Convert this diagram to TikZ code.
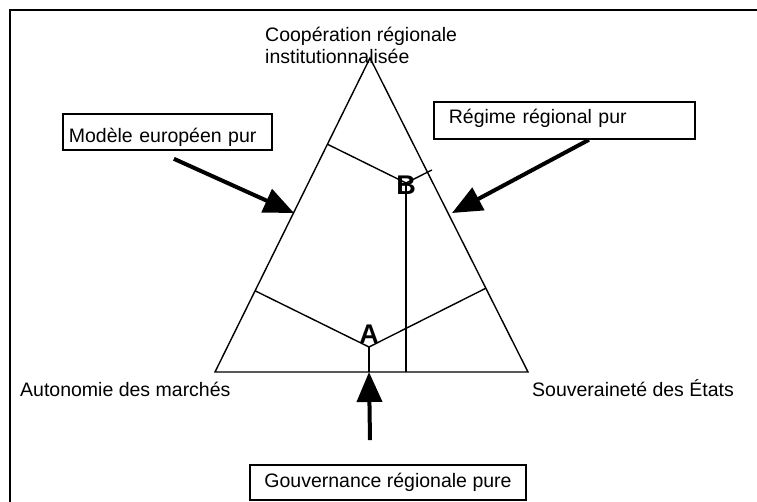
\documentclass[tikz,border=0pt]{standalone}
\usepackage{fontspec}
\setmainfont{Liberation Sans}
\usetikzlibrary{arrows.meta,calc}

\begin{document}
\begin{tikzpicture}[x=1pt,y=-1pt,
    lbl/.style={font=\fontsize{19.5}{22.5}\selectfont, inner sep=0pt},
    ptlbl/.style={font=\bfseries\fontsize{27}{27}\selectfont, inner sep=0pt},
    txtbox/.style={draw, line width=1.8pt, font=\fontsize{19.5}{22.5}\selectfont, inner ysep=2pt, align=left},
    side/.style={line width=1.4pt},
    bigarrow/.style={line width=4pt, -{Triangle[length=30pt,width=25pt]}}]
\useasboundingbox (0,0) rectangle (757,502);
% cadre
\draw[side] (10,502) -- (10,10) -- (757,10);
% triangle
\coordinate (top) at (370,58);
\coordinate (left) at (215,372);
\coordinate (right) at (528,372);
\draw[side] (left) -- (top) -- (right) -- cycle;
% points A et B
\coordinate (A) at (369,347);
\coordinate (B) at (406,183);
\coordinate (baseA) at (A |- left);
\coordinate (baseB) at (B |- left);
\draw[side] ($(left)!(A)!(top)$) -- (A) -- ($(right)!(A)!(top)$);
\draw[side] (A) -- (baseA);
\draw[side] ($(left)!(B)!(top)$) -- (B);
\draw[side, shorten >=-5pt] (B) -- ($(right)!(B)!(top)$);
\draw[side] (B) -- (baseB);
\node[ptlbl] (labA) at (369,334) {A};
\node[ptlbl] (labB) at (406,185) {B};
% sommets
\node[lbl, anchor=base west, align=left] (coop) at (265,64) {Coopération régionale\\institutionnalisée};
\node[lbl, anchor=base west] (march) at (20,396) {Autonomie des marchés};
\node[lbl, anchor=base west] (souv) at (532,396) {Souveraineté des États};
% boites
\node[txtbox, anchor=north west, inner xsep=6pt, text width=197pt, text height=27pt, text depth=5pt] (modele) at (62,113) {Modèle européen pur};
\node[txtbox, anchor=north west, inner xsep=15pt, text width=231pt, text height=20pt, text depth=13pt] (regime) at (433,101) {Régime régional pur};
\node[txtbox, minimum width=276pt, minimum height=35pt, align=center] (gouv) at (388,482.5) {Gouvernance régionale pure};
% fleches
\coordinate (hitL) at (294,213);
\coordinate (hitR) at (452,213);
\draw[bigarrow] ([xshift=6.5pt,yshift=-8pt]modele.south) -- (hitL);
\draw[bigarrow] ([xshift=24.5pt]regime.south) -- (hitR);
\draw[bigarrow] ([xshift=-18pt,yshift=24pt]gouv.north) -- (baseA);
\end{tikzpicture}
\end{document}
